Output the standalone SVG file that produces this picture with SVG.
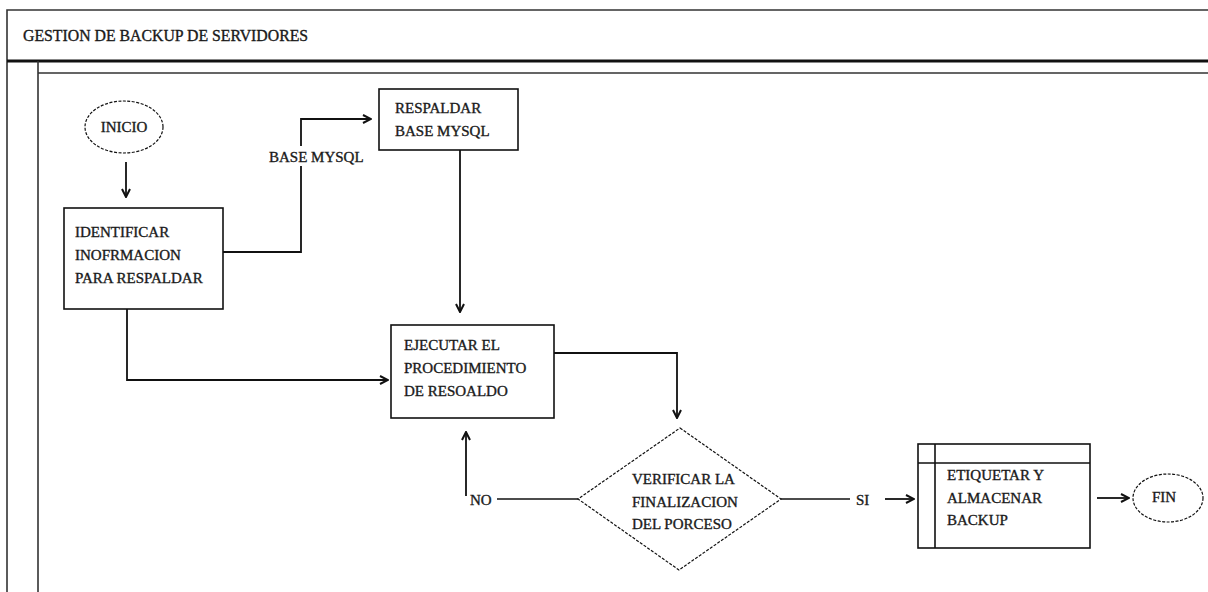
<svg xmlns="http://www.w3.org/2000/svg" width="1208" height="592" viewBox="0 0 1208 592">
<defs>
<style>
.t{font-family:"Liberation Serif","Times New Roman",serif;font-size:15px;fill:#1a1a1a;stroke:#1a1a1a;stroke-width:0.35}
.box{fill:#fff;stroke:#111;stroke-width:1.6}
.dash{fill:#fff;stroke:#111;stroke-width:1.2;stroke-dasharray:3 1.5}
.ln{fill:none;stroke:#111;stroke-width:1.6}
.ar{fill:none;stroke:#111;stroke-width:1.8;marker-end:url(#ah)}
.frame{fill:none;stroke:#333;stroke-width:1.6}
</style>
<marker id="ah" viewBox="0 0 10 10" refX="9" refY="5" markerWidth="10" markerHeight="10" markerUnits="userSpaceOnUse" orient="auto">
<path d="M1,1 L9,5 L1,9" fill="none" stroke="#111" stroke-width="2"/>
</marker>
</defs>
<rect width="1208" height="592" fill="#fff"/>
<g id="frame">
<path class="frame" d="M7,592 V10 H1208"/>
<path d="M7,61 H1208" stroke="#111" stroke-width="3"/>
<path class="frame" d="M38,592 V61 M38,73 H1208"/>
<text class="t" x="23" y="41" style="font-size:15.8px">GESTION DE BACKUP DE SERVIDORES</text>
</g>
<g id="connectors">
<path class="ar" d="M126,162 V197"/>
<path class="ar" d="M223,252 H301 V119 H371"/>
<path class="ar" d="M460,150 V312"/>
<path class="ar" d="M127,309 V380 H388"/>
<path class="ar" d="M554,353 H677 V418"/>
<path class="ln" d="M578,499 H497"/>
<path class="ar" d="M466,496 V432"/>
<path class="ln" d="M781,499 H850"/>
<path class="ar" d="M885,499 H914"/>
<path class="ar" d="M1097,498 H1129"/>
<rect x="268" y="146" width="96" height="20" fill="#fff"/>
<text class="t" x="269" y="162">BASE MYSQL</text>
<text class="t" x="470" y="505">NO</text>
<text class="t" x="856" y="505">SI</text>
</g>
<g id="inicio">
<ellipse class="dash" cx="124" cy="127" rx="39" ry="26"/>
<text class="t" x="124" y="132" text-anchor="middle">INICIO</text>
</g>
<g id="identificar">
<rect class="box" x="64" y="208" width="159" height="101"/>
<text class="t" x="75" y="237">IDENTIFICAR</text>
<text class="t" x="75" y="260">INOFRMACION</text>
<text class="t" x="75" y="283">PARA RESPALDAR</text>
</g>
<g id="respaldar">
<rect class="box" x="379" y="89" width="139" height="61"/>
<text class="t" x="395" y="113">RESPALDAR</text>
<text class="t" x="395" y="136">BASE MYSQL</text>
</g>
<g id="ejecutar">
<rect class="box" x="391" y="325" width="163" height="93"/>
<text class="t" x="404" y="350">EJECUTAR EL</text>
<text class="t" x="404" y="373">PROCEDIMIENTO</text>
<text class="t" x="404" y="396">DE RESOALDO</text>
</g>
<g id="verificar">
<polygon class="dash" points="680,428 781,499 679,570 578,499"/>
<text class="t" x="632" y="484">VERIFICAR LA</text>
<text class="t" x="632" y="507">FINALIZACION</text>
<text class="t" x="632" y="529">DEL PORCESO</text>
</g>
<g id="etiquetar">
<rect class="box" x="918" y="444" width="172" height="104"/>
<path class="ln" d="M918,463 H1090 M935,444 V548"/>
<text class="t" x="947" y="480">ETIQUETAR Y</text>
<text class="t" x="947" y="503">ALMACENAR</text>
<text class="t" x="947" y="525">BACKUP</text>
</g>
<g id="fin">
<ellipse class="dash" cx="1168" cy="498" rx="35" ry="24"/>
<text class="t" x="1164" y="502" text-anchor="middle">FIN</text>
</g>
</svg>
